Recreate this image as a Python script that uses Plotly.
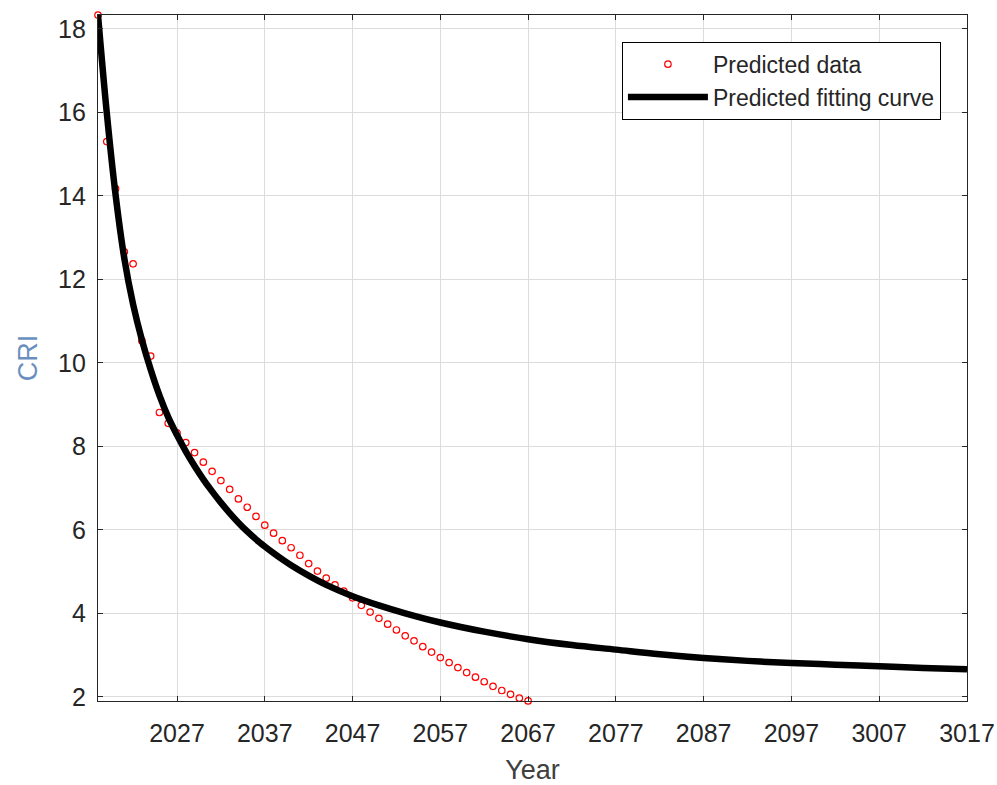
import plotly.graph_objects as go

# Predicted data (yearly, 2018-2067)
data_years = list(range(2018, 2068))
data_cri = [18.33, 15.30, 14.17, 12.66, 12.37, 10.53, 10.16, 8.81, 8.55, 8.32,
            8.09, 7.85, 7.62, 7.40, 7.18, 6.97, 6.74, 6.54, 6.32, 6.11,
            5.92, 5.74, 5.57, 5.39, 5.19, 5.01, 4.84, 4.68, 4.53, 4.37,
            4.19, 4.03, 3.88, 3.74, 3.60, 3.46, 3.34, 3.20, 3.07, 2.94,
            2.82, 2.70, 2.58, 2.47, 2.36, 2.25, 2.15, 2.06, 1.97, 1.90]

# Predicted fitting curve
fit_years = [2018, 2019, 2020, 2021, 2022, 2023, 2024, 2025, 2026, 2027, 2028,
             2029, 2030, 2031, 2032, 2033, 2034, 2035, 2036, 2037, 2038, 2039,
             2040, 2042, 2044, 2047, 2050, 2053, 2057, 2062, 2067, 2072, 2077,
             2082, 2087, 2092, 2097, 2102, 2107, 2112, 2117]
fit_cri = [18.33, 15.99, 14.03, 12.50, 11.40, 10.55, 9.84, 9.22, 8.70, 8.27, 7.88,
           7.53, 7.21, 6.92, 6.65, 6.40, 6.17, 5.96, 5.77, 5.60, 5.44, 5.29,
           5.15, 4.90, 4.68, 4.41, 4.19, 4.00, 3.78, 3.56, 3.38, 3.24, 3.13,
           3.02, 2.93, 2.86, 2.81, 2.77, 2.73, 2.69, 2.66]

x_tickvals = [2027, 2037, 2047, 2057, 2067, 2077, 2087, 2097, 2107, 2117]
x_ticktext = ["2027", "2037", "2047", "2057", "2067", "2077", "2087", "2097", "3007", "3017"]
y_tickvals = [2, 4, 6, 8, 10, 12, 14, 16, 18]

FONT = "Liberation Sans, Arial, sans-serif"

fig = go.Figure()
fig.add_trace(go.Scatter(
    x=data_years, y=data_cri, mode="markers", name="Predicted data",
    marker=dict(symbol="circle-open", size=6.5, color="#ff0000", line=dict(width=1.2, color="#ff0000")),
    cliponaxis=False,
))
fig.add_trace(go.Scatter(
    x=fit_years, y=fit_cri, mode="lines", name="Predicted fitting curve",
    line=dict(color="black", width=6.5, shape="spline", smoothing=1.0),
))

axis_common = dict(
    showgrid=True, gridcolor="#dcdcdc", gridwidth=1,
    showline=True, linecolor="#262626", linewidth=1.2, mirror="ticks",
    ticks="inside", ticklen=5, tickcolor="#262626", tickwidth=1,
    zeroline=False, automargin=False,
    tickfont=dict(family=FONT, size=25, color="#262626"),
)

fig.update_layout(
    width=997, height=785,
    margin=dict(l=98, r=30, t=15, b=84),
    plot_bgcolor="white", paper_bgcolor="white",
    font=dict(family=FONT),
    xaxis=dict(range=[2018, 2117], tickvals=x_tickvals, ticktext=x_ticktext,
               ticklabelstandoff=10,
               title=dict(text="Year", font=dict(family=FONT, size=27, color="#404040"), standoff=14),
               **axis_common),
    yaxis=dict(range=[1.899, 18.331], tickvals=y_tickvals,
               ticklabelstandoff=6,
               title=dict(text="CRI", font=dict(family=FONT, size=27, color="#6a8fbf"), standoff=12),
               **axis_common),
    legend=dict(x=0.97, y=0.961, xanchor="right", yanchor="top",
                bgcolor="white", bordercolor="black", borderwidth=1,
                font=dict(family=FONT, size=23, color="#262626"),
                itemwidth=80, tracegroupgap=2),
    showlegend=True,
)

fig.write_html("out.html")
